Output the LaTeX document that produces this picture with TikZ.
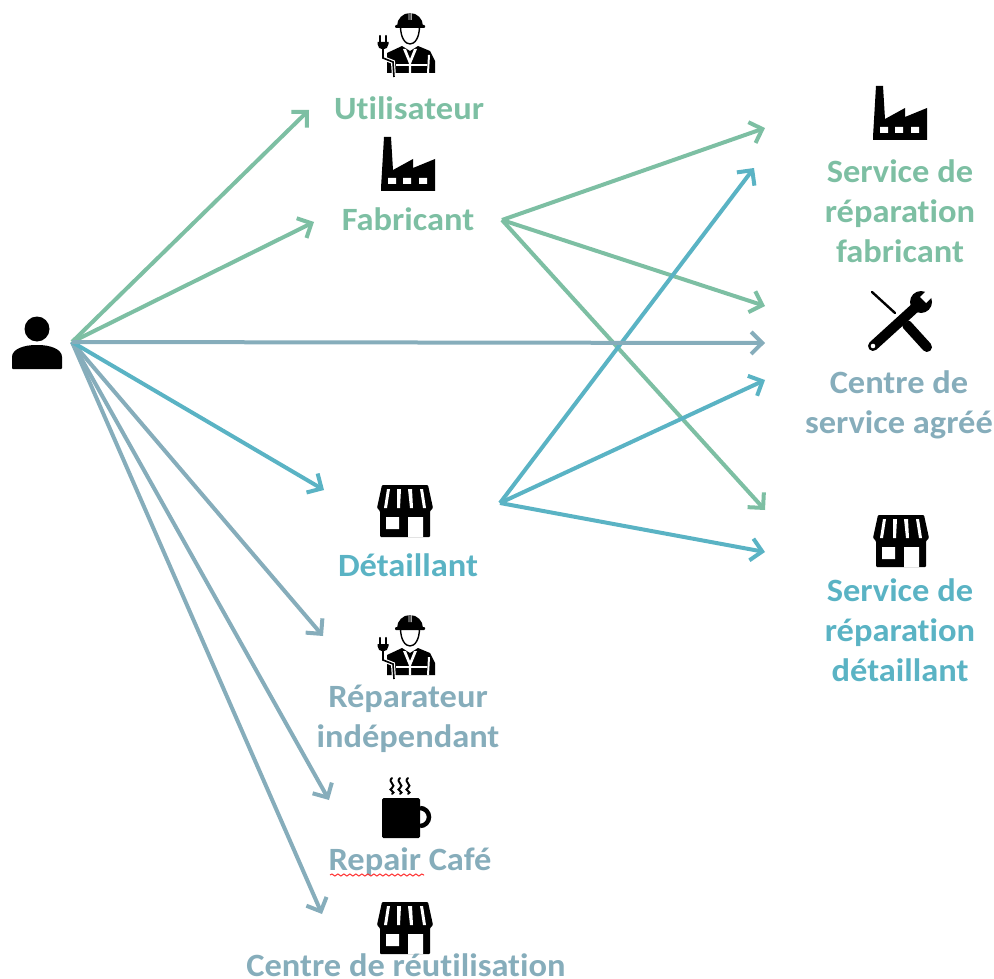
\documentclass[tikz,border=0pt]{standalone}
\usepackage{fontspec}
\setmainfont[Ligatures=NoCommon,FakeStretch=1.06]{Carlito}
\usetikzlibrary{arrows.meta,decorations.pathmorphing}
\definecolor{cgreen}{HTML}{7DBFA3}
\definecolor{cblue}{HTML}{5AB3C4}
\definecolor{cgrey}{HTML}{86ADBB}
\tikzset{
 lab/.style={font=\bfseries\fontsize{32.5}{40}\selectfont,align=center,inner sep=0pt},
 con/.style={line width=4pt,-{Straight Barb[length=11pt,width=22pt,line width=4pt]}},
}
\newcommand{\factoryicon}[2]{\begin{scope}[shift={(#1,#2)}]
 \fill (-27,27)--(-27,24)--(-24,-27)--(-17,-27)--(-15,6)--(5,-5)--(5,4)--(27,-5)--(27,27)--cycle;
 \fill[white] (-20,14) rectangle (-12,20) (-5,14) rectangle (3,20) (11,14) rectangle (19,20);
\end{scope}}
\newcommand{\shopicon}[2]{\begin{scope}[shift={(#1,#2)}]
 \fill[rounded corners=1pt] (-28,-3)--(-23,-26)--(23,-26)--(28,-3)--(25,0)--(25,26)--(-25,26)--(-25,0)--cycle;
 \fill[white] (-18,-22)--(-15,-22)--(-18,-3)--(-21,-3)--cycle
   (-8,-22)--(-4,-22)--(-5,-3)--(-8,-3)--cycle
   (3,-22)--(7,-22)--(8,-3)--(5,-3)--cycle
   (15,-22)--(18,-22)--(21,-3)--(18,-3)--cycle;
 \fill[white] (-19,6) rectangle (-6,18) (3,6) rectangle (18,26);
\end{scope}}
\newcommand{\workericon}[2]{\begin{scope}[shift={(#1,#2)}]
 \draw[line width=1.4pt,fill=white] (-9.5,-19) .. controls (-9.5,5) and (9.5,5) .. (9.5,-19);
 \fill (-13,-19) arc (180:360:13 and 13)--cycle;
 \fill[rounded corners=1pt] (-15,-20) rectangle (15,-17);
 \fill[white] (-1.5,-32) rectangle (-0.7,-25) (0.7,-32) rectangle (1.5,-25);
 \fill (-23,28)--(-23,8)--(-8,1)--(0,6)--(8,1)--(20,6)--(25,16)--(25,28)--cycle;
 \fill[white] (-7,4)--(-4,4)--(0,14)--(4,4)--(7,4)--(1.2,18)--(1.2,28)--(-1.2,28)--(-1.2,18)--cycle;
 \fill[white] (-14,19) rectangle (17,21);
 \fill[white] (18,10)--(20,10)--(19,28)--(17,28)--cycle;
 \draw[white,line width=4pt] (-27,6)--(-27,13)--(-17,17)--(-16,32);
 \draw[line width=1.6pt] (-27,4)--(-27,13)--(-17,17)--(-16,32);
 \fill (-32.5,-3) -- (-21.5,-3) -- (-21.5,-1) arc (0:180:5.5) -- cycle;
 \draw[line width=2.2pt,line cap=round] (-30,-9)--(-30,-3) (-24,-9)--(-24,-3);
\end{scope}}
\newcommand{\cupicon}[2]{\begin{scope}[shift={(#1,#2)}]
 \draw[line width=4.5pt] (19,-10) arc (-90:90:9);
 \fill[rounded corners=1.5pt] (-19,-20)--(19,-20)--(19,20)--(-19,20)--cycle;
 \draw[line width=2pt,line cap=round] foreach \sx in {-9,-1,7} {
   (\sx,-40) .. controls (\sx-5,-36) and (\sx+5,-33) .. (\sx,-30) .. controls (\sx-5,-28) and (\sx+5,-26) .. (\sx,-24)};
\end{scope}}
\newcommand{\toolsicon}[2]{\begin{scope}[shift={(#1,#2)}]
 \draw[line width=2.4pt,line cap=round] (-28,-28)--(-5,-7);
 \draw[line width=10pt,line cap=round] (7,5)--(27,27);
 \draw[line width=3pt,white] (-8,13)--(14,-7);
 \draw[line width=10pt,line cap=round] (-27,26)--(17,-14);
 \fill (21,-18) circle (11);
 \fill[white] (20,-23)--(30,-33)--(36,-27)--(26,-17)--cycle;
 \fill[white] (-27,26) circle (2.3);
\end{scope}}
\begin{document}
\begin{tikzpicture}[x=1pt,y=-1pt]
\useasboundingbox (0,0) rectangle (994,979);
% icons
\fill (37,329) circle (12.5);
\fill[rounded corners=1pt] (12,369)--(12,358) .. controls (12,349) and (24,345) .. (37,345) .. controls (50,345) and (62,349) .. (62,358)--(62,369)--cycle;
\workericon{410}{45}
\factoryicon{408}{164}
\factoryicon{900}{113}
\toolsicon{900}{320}
\shopicon{405}{511}
\shopicon{901}{541}
\workericon{410}{647}
\cupicon{401}{818}
\shopicon{405}{928}
% labels
\node[lab,text=cgreen] (util) at (409,108) {Utilisateur};
\node[lab,text=cgreen] (fabr) at (408,219) {Fabricant};
\node[lab,text=cblue] (deta) at (408,565) {Détaillant};
\node[lab,text=cgrey] (repa) at (408,719) {Réparateur\\indépendant};
\node[lab,text=cgrey] (cafe) at (410,862) {Repair Café};
\node[lab,text=cgrey] (reut) at (406,965) {Centre de réutilisation};
\node[lab,text=cgreen] (srf) at (900,211) {Service de\\réparation\\fabricant};
\node[lab,text=cgrey] (csa) at (899,405) {Centre de\\service agréé};
\node[lab,text=cblue] (srd) at (900,630) {Service de\\réparation\\détaillant};
% squiggle
\coordinate (sqa) at (330,875);
\coordinate (sqb) at (424,875);
\draw[red!80!white,line width=1pt,decorate,decoration={snake,amplitude=1pt,segment length=6pt}] (sqa)--(sqb);
% connector ends
\coordinate (user) at (72,342);
\coordinate (fabout) at (502,220);
\coordinate (detout) at (500,503);
\coordinate (toutil) at (309,110);
\coordinate (tofabr) at (314,222);
\coordinate (tocsa) at (765,343);
\coordinate (todeta) at (324,490);
\coordinate (torepa) at (323,636);
\coordinate (tocafe) at (329,800);
\coordinate (toreut) at (322,914);
\coordinate (fsrf) at (765,128);
\coordinate (fcsa) at (765,306);
\coordinate (fsrd) at (765,510);
\coordinate (dsrf) at (754,168);
\coordinate (dcsa) at (765,380);
\coordinate (dsrd) at (765,552);
% connectors
\draw[con,cgreen] (user)--(toutil);
\draw[con,cgreen] (user)--(tofabr);
\draw[con,cgrey] (user)--(tocafe);
\draw[con,cgrey] (user)--(toreut);
\draw[con,cgrey] (user)--(torepa);
\draw[con,cblue] (user)--(todeta);
\draw[con,cgreen] (fabout)--(fsrf);
\draw[con,cgreen] (fabout)--(fcsa);
\draw[con,cgreen] (fabout)--(fsrd);
\draw[con,cblue] (detout)--(dsrf);
\draw[con,cblue] (detout)--(dcsa);
\draw[con,cblue] (detout)--(dsrd);
\draw[con,cgrey] (user)--(tocsa);
\end{tikzpicture}
\end{document}
